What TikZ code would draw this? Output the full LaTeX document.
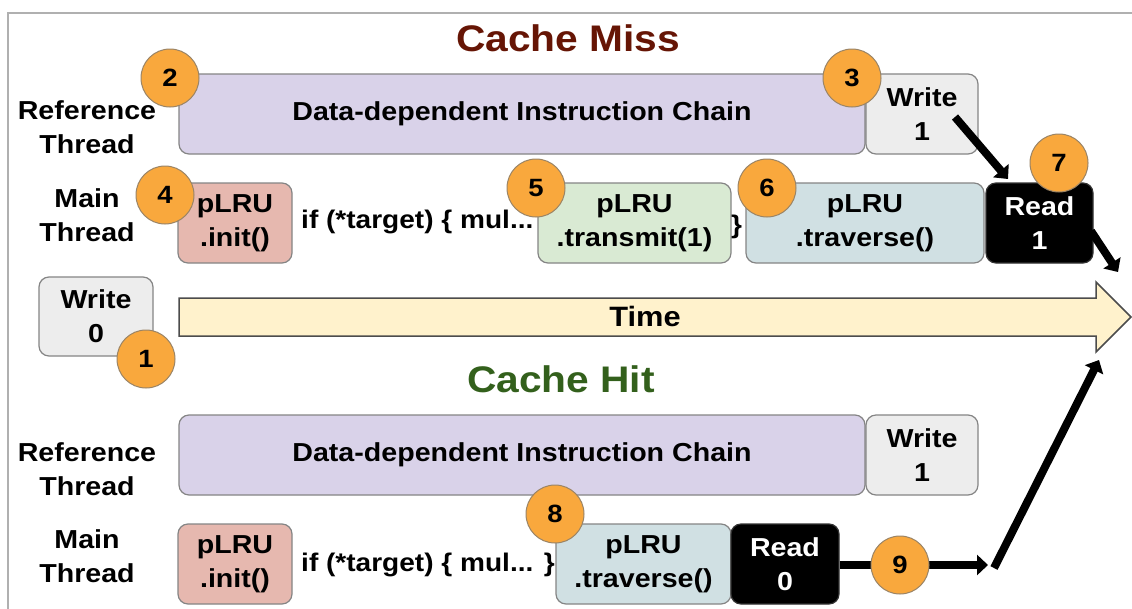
\documentclass[tikz,border=0pt]{standalone}
\usepackage{fontspec}
\setmainfont{Liberation Sans}[FakeStretch=1.1]
\usetikzlibrary{arrows.meta}
\definecolor{frameg}{HTML}{B0B0B0}
\definecolor{boxline}{HTML}{858585}
\definecolor{chainc}{HTML}{D9D2E9}
\definecolor{writec}{HTML}{EDEDED}
\definecolor{initc}{HTML}{E6B8AF}
\definecolor{transc}{HTML}{D9EAD3}
\definecolor{travc}{HTML}{D0E0E3}
\definecolor{timec}{HTML}{FFF2CC}
\definecolor{numc}{HTML}{F9A83D}
\definecolor{numline}{HTML}{9A8466}
\definecolor{missc}{HTML}{661505}
\definecolor{hitc}{HTML}{33601C}
\tikzset{
  blk/.style={draw=boxline, line width=1.2pt, rounded corners=10pt, align=center, inner sep=0pt,
    minimum height=80pt, font=\bfseries\fontsize{26}{34}\selectfont},
  chainbox/.style={blk, fill=chainc, minimum width=686pt},
  writebox/.style={blk, fill=writec, minimum width=112pt},
  initbox/.style={blk, fill=initc, minimum width=114pt},
  transbox/.style={blk, fill=transc, minimum width=193pt},
  travbox/.style={blk, fill=travc},
  readbox/.style={blk, fill=black, draw=black!80, text=white},
  num/.style={circle, fill=numc, draw=numline, line width=1pt, minimum size=58pt, inner sep=0pt,
    font=\bfseries\fontsize{25}{25}\selectfont},
  rowlbl/.style={align=center, font=\bfseries\fontsize{26}{34}\selectfont},
  codetxt/.style={anchor=west, inner sep=0pt, font=\bfseries\fontsize{25.5}{30}\selectfont},
  ttl/.style={font=\bfseries\fontsize{37}{40}\selectfont},
  bigarrow/.style={line width=8pt, -{Triangle[length=11pt,width=20pt]}},
}
\begin{document}
\begin{tikzpicture}[x=1pt,y=-1pt]
\useasboundingbox (0,0) rectangle (1132,608);
\fill[white] (0,0) rectangle (1132,608);
\draw[frameg, line width=2.5pt] (8,640) -- (8,13) -- (1160,13);

% titles
\node[ttl, text=missc] (tmiss) at (568,38) {Cache Miss};
\node[ttl, text=hitc] (thit) at (561,379) {Cache Hit};

% row labels
\node[rowlbl] (lref1) at (87,127) {Reference\\Thread};
\node[rowlbl] (lmain1) at (87,215) {Main\\Thread};
\node[rowlbl] (lref2) at (87,469) {Reference\\Thread};
\node[rowlbl] (lmain2) at (87,556) {Main\\Thread};

% time arrow
\draw[draw=black!70, fill=timec, line width=1.5pt, line join=miter]
  (179,298) -- (1096,298) -- (1096,282) -- (1131,317) -- (1096,352) -- (1096,336) -- (179,336) -- cycle;
\node[font=\bfseries\fontsize{28}{28}\selectfont] (time) at (645,316) {Time};

% cache miss rows
\node[chainbox] (chain1) at (522,114) {\raisebox{-2pt}{Data-dependent Instruction Chain}};
\node[writebox] (w1) at (922,114) {Write\\1};
\node[initbox] (init1) at (235,223) {pLRU\\.init()};
\node[codetxt] (code1) at (301,222) {if (*target) \{ mul...};
\node[transbox] (trans1) at (634.5,223) {pLRU\\.transmit(1)};
\node[codetxt] (brace1) at (731,227) {\}};
\node[travbox, minimum width=238pt] (trav1) at (865,223) {pLRU\\.traverse()};
\node[readbox, minimum width=107pt] (r1) at (1039.5,223) {Read\\1};
\node[writebox, minimum width=114pt, minimum height=79pt] (w0) at (96,316.5) {Write\\0};

% cache hit rows
\node[chainbox] (chain2) at (522,455) {\raisebox{-2pt}{Data-dependent Instruction Chain}};
\node[writebox] (w2) at (922,455) {Write\\1};
\node[initbox] (init2) at (235,564) {pLRU\\.init()};
\node[codetxt] (code2) at (301,565) {if (*target) \{ mul... \}};
\node[travbox, minimum width=175pt] (trav2) at (643.5,564) {pLRU\\.traverse()};
\node[readbox, minimum width=108pt] (r0) at (785,564) {Read\\0};

% arrows
\coordinate (a1s) at (955,117);
\coordinate (a1e) at (1008,179);
\coordinate (a2s) at (1091,231);
\coordinate (a2e) at (1118,272);
\coordinate (a3e) at (988,565);
\coordinate (a4s) at (994,568);
\coordinate (a4e) at (1099,360);
\draw[bigarrow] (a1s) -- (a1e);
\draw[bigarrow] (a2s) -- (a2e);
\draw[bigarrow] (r0.east |- 0,565) -- (a3e);
\draw[bigarrow] (a4s) -- (a4e);

% numbered circles
\node[num] (n1) at (146,359) {1};
\node[num] (n2) at (170,78) {2};
\node[num] (n3) at (852,78) {3};
\node[num] (n4) at (165,195) {4};
\node[num] (n5) at (536,188) {5};
\node[num] (n6) at (767,188) {6};
\node[num] (n7) at (1059,163) {7};
\node[num] (n8) at (555,514) {8};
\node[num] (n9) at (900,565) {9};
\end{tikzpicture}
\end{document}
